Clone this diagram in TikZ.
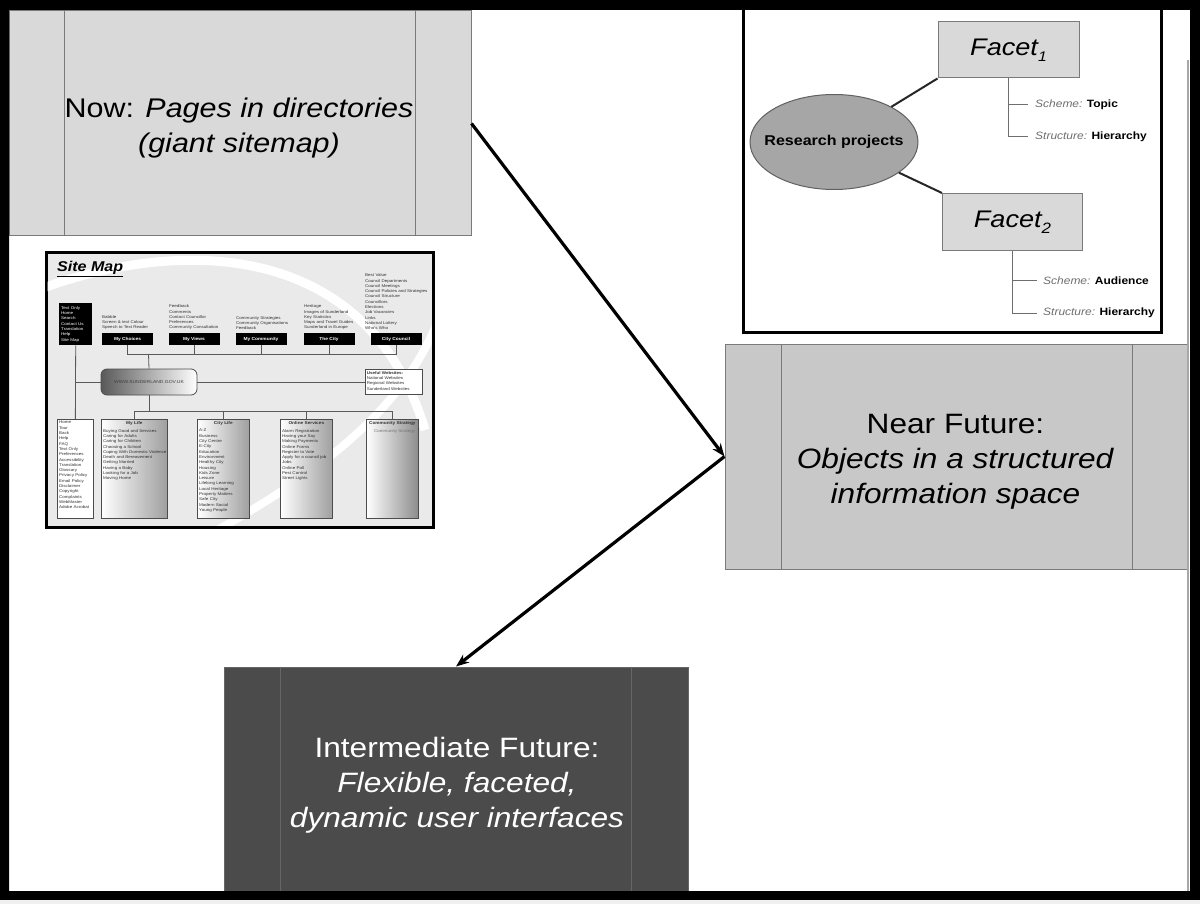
\documentclass[tikz,border=0pt]{standalone}
\usepackage{fontspec}
\setmainfont{Liberation Sans}[FakeStretch=1.13]
\usetikzlibrary{shapes.geometric,arrows.meta,calc}
\definecolor{boxlight}{HTML}{D9D9D9}
\definecolor{boxmid}{HTML}{C8C8C8}
\definecolor{boxdark}{HTML}{4B4B4B}
\definecolor{edgegray}{HTML}{7A7A7A}
\definecolor{ellfill}{HTML}{A6A6A6}
\definecolor{smbg}{HTML}{EAEAEA}
\definecolor{labgray}{HTML}{6E6E6E}
\begin{document}
\begin{tikzpicture}[x=1pt,y=-1pt,
  procbox/.style={draw=edgegray, line width=1pt, inner sep=0pt},
  procline/.style={draw=edgegray, line width=1pt},
  boxtxt/.style={align=center, inner sep=0pt, font=\fontsize{28}{35}\selectfont},
  arr/.style={-{Stealth[length=13pt,width=10pt]}, line width=3.2pt, black},
  facetbox/.style={draw=edgegray, line width=1pt, fill=boxlight, inner sep=0pt, font=\fontsize{24}{28}\selectfont\itshape},
  conn/.style={draw=black!85, line width=2pt},
  treeline/.style={draw=labgray, line width=1pt},
  lbl/.style={anchor=west, inner sep=0pt, font=\fontsize{10.6}{13}\selectfont},
  tinytxt/.style={font=\fontsize{4}{5.3}\selectfont, align=left, inner sep=0pt, anchor=north west, text=black!80},
  btn/.style={fill=black, text=white, font=\fontsize{4.3}{5}\selectfont\bfseries, minimum width=51pt, minimum height=12pt, inner sep=0pt},
  smline/.style={draw=gray!70!black, line width=0.8pt},
  lstbox/.style={draw=gray!60!black, line width=0.7pt, minimum height=99pt, inner sep=0pt, anchor=north west},
  shbox/.style={lstbox, left color=white, right color=gray!75}
]
\useasboundingbox (0,0) rectangle (1200,904);
\fill[white] (0,0) rectangle (1200,904);

% ---------------- Now box
\node[procbox, fill=boxlight, minimum width=462pt, minimum height=225pt] (now) at (240,123.5) {};
\draw[procline] ($(now.north west)+(56,0)$) -- ($(now.south west)+(56,0)$);
\draw[procline] ($(now.north east)+(-56,0)$) -- ($(now.south east)+(-56,0)$);
\node[boxtxt, font=\fontsize{27}{35}\selectfont] (nowtxt) at ($(now.center)+(-1,5)$)
  {Now: \textit{Pages in directories}\\\textit{(giant sitemap)}};

% ---------------- Near Future box
\node[procbox, fill=boxmid, minimum width=463pt, minimum height=225pt] (near) at (956.5,456.5) {};
\draw[procline] ($(near.north west)+(57,0)$) -- ($(near.south west)+(57,0)$);
\draw[procline] ($(near.north east)+(-56,0)$) -- ($(near.south east)+(-56,0)$);
\node[boxtxt] (neartxt) at ($(near.center)+(-1,5)$)
  {Near Future:\\\textit{Objects in a structured}\\\textit{information space}};

% ---------------- Intermediate Future box
\node[procbox, fill=boxdark, draw=black!60, minimum width=464pt, minimum height=225pt] (inter) at (456,779.5) {};
\draw[procline, draw=black!60] ($(inter.north west)+(57,0)$) -- ($(inter.south west)+(57,0)$);
\draw[procline, draw=black!60] ($(inter.north east)+(-57,0)$) -- ($(inter.south east)+(-57,0)$);
\node[boxtxt, text=white] (intertxt) at ($(inter.center)+(1,6)$)
  {Intermediate Future:\\\textit{Flexible, faceted,}\hspace*{17pt}\\\textit{dynamic user interfaces}};

% ---------------- arrows
\draw[arr] (now.east) -- (near.west);
\draw[arr] (near.west) -- (inter.north);

% ---------------- facet panel
\draw[line width=3pt] (743,6) rectangle (1161,332);
\node[facetbox, minimum width=141pt, minimum height=56pt] (f1) at (1008.5,50)
  {Facet\raisebox{-6pt}{\fontsize{14}{14}\selectfont 1}};
\node[facetbox, minimum width=140pt, minimum height=57pt] (f2) at (1012.5,222)
  {Facet\raisebox{-6pt}{\fontsize{15}{15}\selectfont 2}};
\node[ellipse, draw=gray!75!black, line width=1pt, fill=ellfill, minimum width=168pt, minimum height=95pt, inner sep=0pt] (rp) at (834,142) {};
\node[inner sep=0pt, font=\fontsize{14.2}{16}\selectfont\bfseries] (rptxt) at (rp.center) {Research projects};
\draw[conn] (rp) -- (f1.south west);
\draw[conn] (rp) -- (f2.north west);

\node[lbl] (s1) at (1035,105) {\textcolor{labgray}{\itshape Scheme:} \textbf{Topic}};
\node[lbl] (s2) at (1035,137) {\textcolor{labgray}{\itshape Structure:} \textbf{Hierarchy}};
\node[lbl] (s3) at (1043,281) {\textcolor{labgray}{\itshape Scheme:} \textbf{Audience}};
\node[lbl] (s4) at (1043,313) {\textcolor{labgray}{\itshape Structure:} \textbf{Hierarchy}};
\draw[treeline] (f1.south) |- ([xshift=-7pt]s1.west);
\draw[treeline] (f1.south) |- ([xshift=-7pt]s2.west);
\draw[treeline] (f2.south) |- ([xshift=-6pt]s3.west);
\draw[treeline] (f2.south) |- ([xshift=-6pt]s4.west);

% scroll line at right
\draw[gray!70, line width=1.5pt] (1188,60) -- (1188,891);

% ---------------- site map screenshot
\draw[line width=3pt, fill=smbg] (46,253) rectangle (433,527);
\begin{scope}
\clip (47.5,254.5) rectangle (431.5,525.5);
\draw[white, line width=9pt] (46,287) .. controls (190,236) and (370,245) .. (425,430);
\draw[white, line width=8pt] (445,300) .. controls (415,400) and (330,470) .. (190,545);
\end{scope}

\node[inner sep=0pt, anchor=north west, font=\fontsize{14.2}{16}\selectfont\bfseries\itshape] (smt) at (57,261) {\underline{Site Map}};

\node[fill=black, text=white, font=\fontsize{4}{5.3}\selectfont, align=left, inner sep=2pt, text width=29pt,
      minimum height=42pt, anchor=north west] (tl) at (59,303)
  {Text Only\\Home\\Search\\Contact Us\\Translation\\Help\\Site Map};

\node[btn] (b1) at (127.5,339) {My Choices};
\node[btn] (b2) at (194,339) {My Views};
\node[btn] (b3) at (261,339) {My Community};
\node[btn] (b4) at (329,339) {The City};
\node[btn] (b5) at (396,339) {City Council};

\node[tinytxt, anchor=south west] (t1) at (102,330) {Babble\\Screen \& text Colour\\Speech to Text Reader};
\node[tinytxt, anchor=south west] (t2) at (169,330) {Feedback\\Comments\\Contact Councillor\\Preferences\\Community Consultation};
\node[tinytxt, anchor=south west] (t3) at (236,330) {Community Strategies\\Community Organisations\\Feedback};
\node[tinytxt, anchor=south west] (t4) at (304,330) {Heritage\\Images of Sunderland\\Key Statistics\\Maps and Travel Guides\\Sunderland in Europe};
\node[tinytxt, anchor=south west] (t5) at (365,330) {Best Value\\Council Departments\\Council Meetings\\Council Policies and Strategies\\Council Structure\\Councillors\\Elections\\Job Vacancies\\Links\\National Lottery\\Who's Who};

\coordinate (hub) at (148.5,354);
\draw[smline] (b1.south) |- (hub);
\draw[smline] (b2.south) |- (hub);
\draw[smline] (b3.south) |- (hub);
\draw[smline] (b4.south) |- (hub);
\draw[smline] (b5.south) |- (hub);

% useful websites
\node[draw=gray!60!black, line width=0.7pt, fill=white, minimum width=57pt, minimum height=25pt, inner sep=0pt] (uw) at (393.5,382) {};
\node[tinytxt] (uwt) at ($(uw.north west)+(2,2)$) {\textbf{Useful Websites:}\\National Websites\\Regional Websites\\Sunderland Websites};

% left list box
\node[lstbox, fill=white, minimum width=36pt] (lst) at (57,419) {};
\draw[smline] (tl.south) -- (lst.north);
\draw[smline] (tl.south |- uw.west) -- (uw.west);

% www box
\node[draw=gray!60!black, line width=0.8pt, rounded corners=6pt, left color=black!65, right color=white,
      minimum width=96pt, minimum height=26pt, inner sep=0pt, font=\fontsize{4.4}{5}\selectfont, text=black!75] (www) at (149,382) {WWW.SUNDERLAND.GOV.UK};
\draw[smline] (hub) -- (www.north);

% lower boxes
\node[shbox, minimum width=66pt] (ml) at (101,419) {};
\node[shbox, minimum width=52pt] (cl) at (197,419) {};
\node[shbox, minimum width=52pt] (os) at (280,419) {};
\node[shbox, minimum width=52pt, right color=gray!90] (cs) at (366,419) {};

\coordinate (hub2) at (149,411);
\draw[smline] (www.south) -- (hub2);
\draw[smline] (ml.north) |- (hub2);
\draw[smline] (cl.north) |- (hub2);
\draw[smline] (os.north) |- (hub2);
\draw[smline] (cs.north) |- (hub2);

\node[tinytxt] (lstt) at ($(lst.north west)+(2,2)$)
  {Home\\Tour\\Back\\Help\\FAQ\\Text Only\\Preferences\\Accessibility\\Translation\\Glossary\\Privacy Policy\\Email Policy\\Disclaimer\\Copyright\\Complaints\\WebMaster\\Adobe Acrobat};

\node[tinytxt, anchor=north, font=\fontsize{4.2}{5}\selectfont\bfseries] (mlh) at ($(ml.north)+(0,2.5)$) {My Life};
\node[tinytxt] (mlt) at ($(ml.north west)+(2,10)$)
  {Buying Good and Services\\Caring for Adults\\Caring for Children\\Choosing a School\\Coping With Domestic Violence\\Death and Bereavement\\Getting Married\\Having a Baby\\Looking for a Job\\Moving Home};

\node[tinytxt, anchor=north, font=\fontsize{4.2}{5}\selectfont\bfseries] (clh) at ($(cl.north)+(0,2.5)$) {City Life};
\node[tinytxt] (clt) at ($(cl.north west)+(2,10)$)
  {A-Z\\Business\\City Centre\\E-City\\Education\\Environment\\Healthy City\\Housing\\Kids Zone\\Leisure\\Lifelong Learning\\Local Heritage\\Property Matters\\Safe City\\Modern Social\\Young People};

\node[tinytxt, anchor=north, font=\fontsize{4.2}{5}\selectfont\bfseries] (osh) at ($(os.north)+(0,2.5)$) {Online Services};
\node[tinytxt] (ost) at ($(os.north west)+(2,10)$)
  {Alarm Registration\\Having your Say\\Making Payments\\Online Forms\\Register to Vote\\Apply for a council job\\Jobs\\Online Poll\\Pest Control\\Street Lights};

\node[tinytxt, anchor=north, font=\fontsize{4.2}{5}\selectfont\bfseries] (csh) at ($(cs.north)+(0,2.5)$) {Community Strategy};
\node[tinytxt, text=black!55] (cst) at ($(cs.north west)+(8,10)$) {Community Strategy};

% ---------------- outer black frame
\fill[black, even odd rule] (0,0) rectangle (1200,900) (9,10) rectangle (1190,891);
\fill[gray!12] (0,900) rectangle (1200,904);
\end{tikzpicture}
\end{document}
